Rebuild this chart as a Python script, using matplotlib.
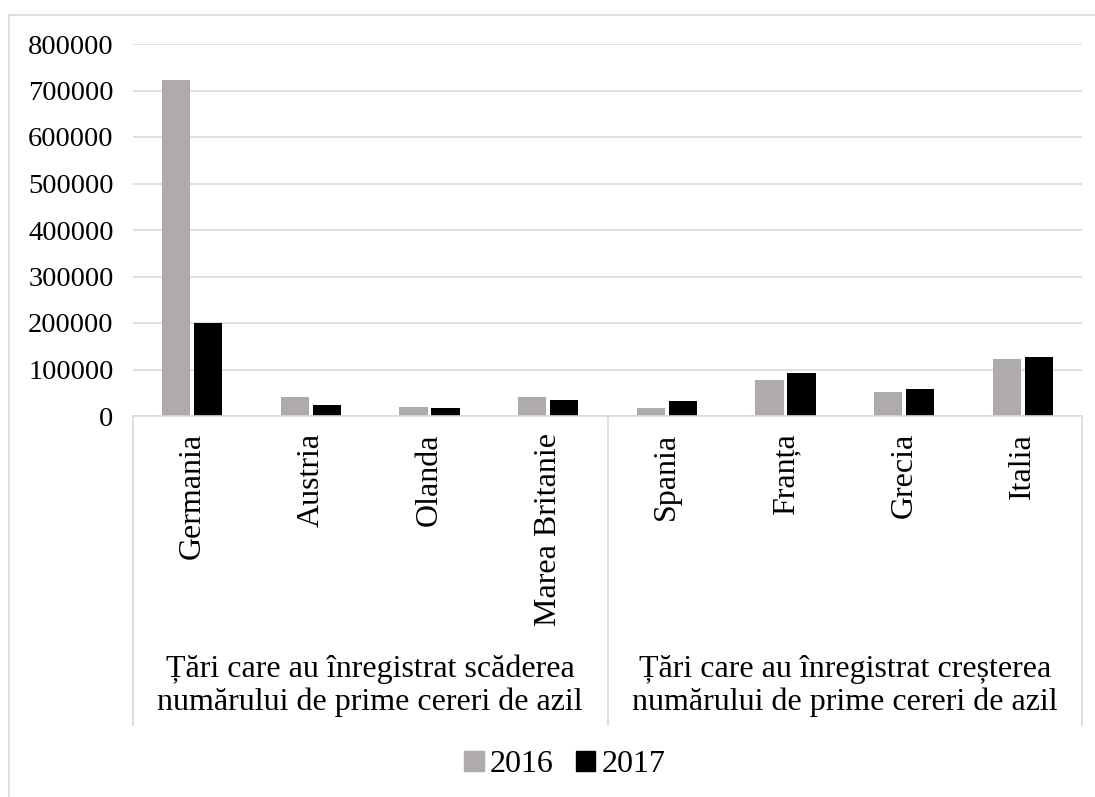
import numpy as np
import matplotlib
matplotlib.use('Agg')
import matplotlib.pyplot as plt
from matplotlib.patches import Patch
from matplotlib.lines import Line2D

countries = ['Germania', 'Austria', 'Olanda', 'Marea Britanie',
             'Spania', 'Franța', 'Grecia', 'Italia']
groups = ['Țări care au înregistrat scăderea\nnumărului de prime cereri de azil',
          'Țări care au înregistrat creșterea\nnumărului de prime cereri de azil']
years = ['2016', '2017']
v2016 = [722000, 41000, 20000, 40000, 16500, 78000, 51000, 122000]
v2017 = [199000, 23000, 17000, 34000, 31500, 92500, 58000, 127500]
yticks = [0, 100000, 200000, 300000, 400000, 500000, 600000, 700000, 800000]

gray = '#AFABAB'
line_col = '#D9D9D9'
plt.rcParams['font.family'] = ['Liberation Serif', 'DejaVu Serif']

W, H = 1095, 797
fig = plt.figure(figsize=(W / 100, H / 100), dpi=100)
ax = fig.add_axes([133 / W, 1 - 416 / H, (1082 - 133) / W, (416 - 44) / H])

x = np.arange(len(countries))
bw = 0.238
ax.bar(x - 0.135, v2016, bw, color=gray, zorder=3)
ax.bar(x + 0.135, v2017, bw, color='black', zorder=3)

ax.set_xlim(-0.5, len(countries) - 0.5)
ax.set_ylim(0, 800000)
ax.set_yticks(yticks)
ax.set_yticklabels([str(t) for t in yticks], fontsize=20.5)
ax.tick_params(axis='y', length=0, pad=14)
ax.set_xticks([])
ax.grid(axis='y', color=line_col, linewidth=1.2, zorder=0)
for s in ['top', 'right', 'left']:
    ax.spines[s].set_visible(False)
ax.spines['bottom'].set_color(line_col)
ax.spines['bottom'].set_linewidth(1.2)
ax.spines['bottom'].set_zorder(4)

# category area below the axis
trans = ax.get_xaxis_transform()
depth = (725 - 416) / (416 - 44)
for sx in [-0.5, 3.5, 7.5]:
    ax.add_line(Line2D([sx, sx], [0, -depth], transform=trans,
                       color=line_col, linewidth=1.2, clip_on=False))

lab_top = -(433 - 416) / (416 - 44)
for i, name in enumerate(countries):
    ax.text(i, lab_top, name, transform=trans, rotation=90,
            ha='center', va='top', fontsize=23)

grp_y = -(686 - 416) / (416 - 44)
for gi, g in enumerate(groups):
    ax.text(1.5 + 4 * gi, grp_y, g, transform=trans, ha='center',
            va='center', fontsize=23, linespacing=1.15)

# outer chart border
fig.add_artist(Line2D([9 / W, 9 / W], [0, 1 - 15 / H], color=line_col,
                      linewidth=1.2, transform=fig.transFigure))
fig.add_artist(Line2D([9 / W, 1], [1 - 15 / H, 1 - 15 / H], color=line_col,
                      linewidth=1.2, transform=fig.transFigure))

handles = [Patch(color=gray, label=years[0]), Patch(color='black', label=years[1])]
fig.legend(handles=handles, loc='center', ncol=2,
           bbox_to_anchor=(565 / W, 1 - 765 / H), frameon=False,
           fontsize=23, handlelength=0.6, handleheight=0.6,
           handletextpad=0.2, columnspacing=0.7)

fig.savefig('out.png', dpi=100)
